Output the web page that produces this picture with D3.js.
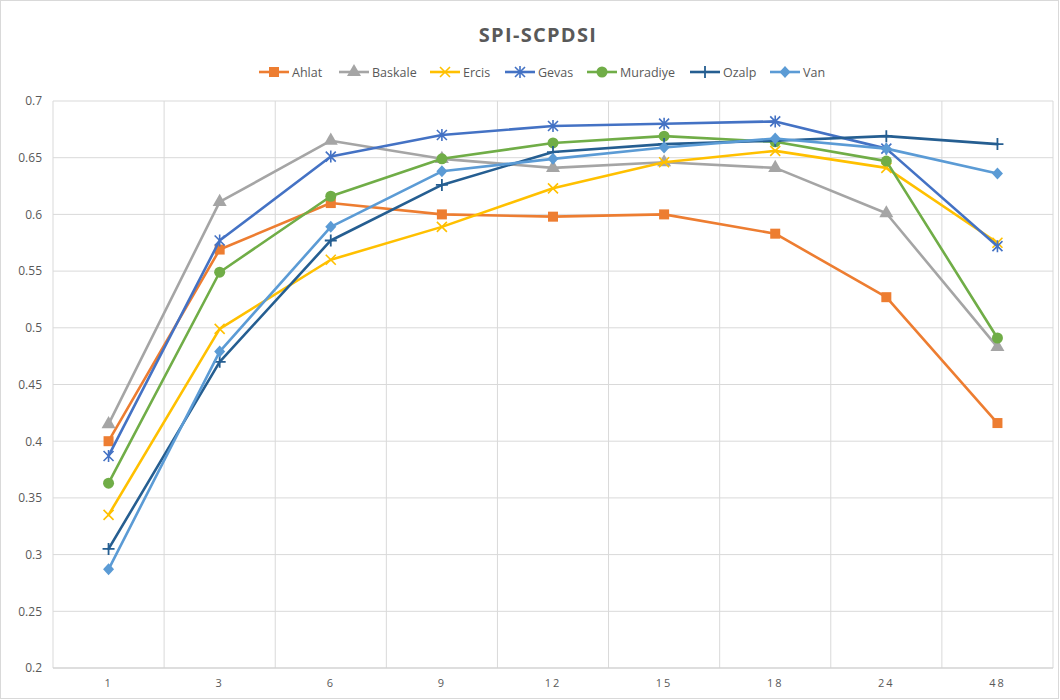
<!DOCTYPE html>
<html><head><meta charset="utf-8">
<script src="https://cdn.jsdelivr.net/npm/d3@7"></script>
<style>body{margin:0;background:#fff;font-family:"Open Sans","Noto Sans",sans-serif;}</style>
</head><body><svg id="c" width="1060" height="700"></svg>
<script>
const categories = ["1","3","6","9","12","15","18","24","48"];
const seriesNames = ["Ahlat","Baskale","Ercis","Gevas","Muradiye","Ozalp","Van"];
const ahlat    = [0.400,0.569,0.610,0.600,0.598,0.600,0.583,0.527,0.416];
const baskale  = [0.415,0.611,0.665,0.649,0.641,0.646,0.641,0.601,0.483];
const ercis    = [0.335,0.499,0.560,0.589,0.623,0.646,0.656,0.641,0.575];
const gevas    = [0.387,0.577,0.651,0.670,0.678,0.680,0.682,0.658,0.572];
const muradiye = [0.363,0.549,0.616,0.649,0.663,0.669,0.664,0.647,0.491];
const ozalp    = [0.305,0.470,0.577,0.626,0.655,0.662,0.665,0.669,0.662];
const van      = [0.287,0.479,0.589,0.638,0.649,0.659,0.667,0.658,0.636];
const yTicks = [0.2,0.25,0.3,0.35,0.4,0.45,0.5,0.55,0.6,0.65,0.7];
const colors = ["#ED7D31","#A5A5A5","#FFC000","#4472C4","#70AD47","#255E91","#5B9BD5"];
const markers = ["square","triangle","x","asterisk","circle","plus","diamond"];
const values = [ahlat,baskale,ercis,gevas,muradiye,ozalp,van];

const svg = d3.select("#c");
svg.append("rect").attr("x",0.5).attr("y",0.5).attr("width",1058).attr("height",698)
  .attr("fill","#fff").attr("stroke","#d9d9d9");

const L=53, R=1053, T=101, B=668;
const x = d3.scaleBand().domain(categories).range([L,R]);
const y = d3.scaleLinear().domain([0.2,0.7]).range([B,T]);
const g = svg.append("g");

g.selectAll(".hg").data(yTicks).join("line")
  .attr("x1",L).attr("x2",R).attr("y1",d=>y(d)).attr("y2",d=>y(d))
  .attr("stroke","#d9d9d9").attr("stroke-width",1);
const bounds = categories.map(c=>x(c)).concat([R]);
g.selectAll(".vg").data(bounds).join("line")
  .attr("x1",d=>d).attr("x2",d=>d).attr("y1",T).attr("y2",B)
  .attr("stroke","#d9d9d9").attr("stroke-width",1);
g.append("line").attr("x1",L).attr("x2",R).attr("y1",B).attr("y2",B).attr("stroke","#d0d0d0").attr("stroke-width",1.2);

const ya = svg.append("g").attr("transform",`translate(${L-8},0)`)
  .call(d3.axisLeft(y).tickValues(yTicks).tickSize(0).tickFormat(d=>String(+d.toFixed(2))));
ya.select(".domain").remove();
ya.selectAll("text").style("fill","#595959").style("font-size","12px").style("font-family","'Open Sans',sans-serif");

const xa = svg.append("g").attr("transform",`translate(0,${B+8})`)
  .call(d3.axisBottom(x).tickSize(0));
xa.select(".domain").remove();
xa.selectAll("text").style("fill","#595959").style("font-size","11px").style("letter-spacing","2px")
  .style("font-family","'Open Sans',sans-serif");

svg.append("text").attr("x",538).attr("y",42).attr("text-anchor","middle")
  .style("fill","#595959").style("font-size","20px").style("font-weight","bold").style("letter-spacing","1.3px")
  .text("SPI-SCPDSI");

function marker(sel, type, color){
  const s=5;
  if(type==="square") sel.append("rect").attr("x",-s).attr("y",-s).attr("width",2*s).attr("height",2*s).attr("fill",color);
  else if(type==="triangle") sel.append("path").attr("d",d3.symbol(d3.symbolTriangle,85)()).attr("fill",color);
  else if(type==="circle") sel.append("circle").attr("r",5.5).attr("fill",color);
  else if(type==="diamond") sel.append("path").attr("d","M0,-6L5.5,0L0,6L-5.5,0Z").attr("fill",color);
  else if(type==="x") sel.append("path").attr("d","M-5,-5L5,5M-5,5L5,-5").attr("stroke",color).attr("stroke-width",1.6).attr("fill","none");
  else if(type==="asterisk") sel.append("path").attr("d","M-5,-5L5,5M-5,5L5,-5M0,-6L0,6").attr("stroke",color).attr("stroke-width",1.6).attr("fill","none");
  else if(type==="plus") sel.append("path").attr("d","M-6,0L6,0M0,-6L0,6").attr("stroke",color).attr("stroke-width",1.8).attr("fill","none");
}

const line = d3.line().x((d,i)=>x(categories[i])+x.bandwidth()/2).y(d=>y(d));
values.forEach((vals,si)=>{
  const sg = svg.append("g");
  sg.append("path").attr("d",line(vals)).attr("fill","none").attr("stroke",colors[si])
    .attr("stroke-width",2.6).attr("stroke-linejoin","round").attr("stroke-linecap","round");
  vals.forEach((v,i)=>{
    const m = sg.append("g").attr("transform",`translate(${x(categories[i])+x.bandwidth()/2},${y(v)})`);
    marker(m, markers[si], colors[si]);
  });
});

const legX = [259,339,430,505,587,690,770];
const leg = svg.append("g");
seriesNames.forEach((n,i)=>{
  const lg = leg.append("g").attr("transform",`translate(${legX[i]},72)`);
  lg.append("line").attr("x1",0).attr("x2",30).attr("y1",0).attr("y2",0).attr("stroke",colors[i]).attr("stroke-width",2.6);
  const m = lg.append("g").attr("transform","translate(15,0)");
  marker(m, markers[i], colors[i]);
  lg.append("text").attr("x",33).attr("y",4.5).style("fill","#595959").style("font-size","12.5px").text(n);
});
</script>
</body></html>
